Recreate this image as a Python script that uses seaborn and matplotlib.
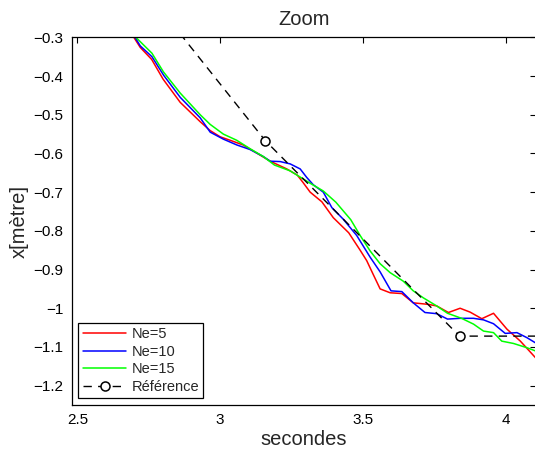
import matplotlib
matplotlib.use("Agg")
import matplotlib.pyplot as plt
from matplotlib.ticker import FuncFormatter
import seaborn as sns

# time (s) and position (m)
t_ne5 = [2.68, 2.696, 2.72, 2.76, 2.80, 2.86, 2.93, 2.965, 3.00, 3.035, 3.08, 3.128,
         3.175, 3.233, 3.27, 3.29, 3.315, 3.356, 3.396, 3.45, 3.49, 3.513, 3.536, 3.56,
         3.595, 3.636, 3.676, 3.729, 3.758, 3.799, 3.84, 3.875, 3.916, 3.957, 4.004,
         4.051, 4.103, 4.14]
x_ne5 = [-0.27, -0.298, -0.326, -0.357, -0.408, -0.468, -0.518, -0.541, -0.557, -0.566,
         -0.578, -0.599, -0.62, -0.64, -0.656, -0.675, -0.70, -0.725, -0.766, -0.805,
         -0.85, -0.877, -0.913, -0.95, -0.96, -0.962, -0.986, -0.99, -0.994, -1.011,
         -1.0, -1.01, -1.027, -1.013, -1.054, -1.085, -1.127, -1.16]

t_ne10 = [2.68, 2.70, 2.72, 2.761, 2.802, 2.86, 2.93, 2.965, 3.011, 3.058, 3.105, 3.151,
          3.175, 3.21, 3.245, 3.28, 3.303, 3.326, 3.361, 3.391, 3.431, 3.478, 3.525,
          3.56, 3.598, 3.636, 3.676, 3.717, 3.758, 3.796, 3.84, 3.887, 3.922, 3.957,
          3.998, 4.039, 4.074, 4.103, 4.14]
x_ne10 = [-0.27, -0.298, -0.322, -0.35, -0.398, -0.455, -0.508, -0.545, -0.563, -0.578,
          -0.59, -0.608, -0.62, -0.621, -0.627, -0.64, -0.662, -0.681, -0.70, -0.74,
          -0.77, -0.812, -0.868, -0.906, -0.955, -0.957, -0.986, -1.011, -1.014,
          -1.028, -1.026, -1.026, -1.03, -1.04, -1.065, -1.063, -1.076, -1.089, -1.10]

t_ne15 = [2.68, 2.702, 2.761, 2.801, 2.86, 2.93, 2.965, 3.011, 3.058, 3.105, 3.151,
          3.19, 3.245, 3.28, 3.315, 3.361, 3.405, 3.457, 3.49, 3.525, 3.56, 3.595,
          3.641, 3.676, 3.711, 3.758, 3.796, 3.845, 3.887, 3.922, 3.957, 3.986, 4.027,
          4.074, 4.103, 4.14]
x_ne15 = [-0.26, -0.298, -0.341, -0.389, -0.444, -0.50, -0.525, -0.55, -0.566, -0.588,
          -0.608, -0.63, -0.645, -0.661, -0.677, -0.697, -0.726, -0.771, -0.812,
          -0.852, -0.885, -0.908, -0.93, -0.955, -0.973, -0.994, -1.013, -1.026,
          -1.041, -1.059, -1.063, -1.085, -1.091, -1.102, -1.11, -1.12]

t_ref = [2.478, 3.158, 3.838, 4.518]
x_ref = [0.063, -0.567, -1.072, -1.072]

xticks = [2.5, 3, 3.5, 4]
yticks = [-1.2, -1.1, -1.0, -0.9, -0.8, -0.7, -0.6, -0.5, -0.4, -0.3]

sns.set_theme(style="white")
plt.rcParams["font.family"] = ["Liberation Sans", "DejaVu Sans"]
plt.rcParams["axes.unicode_minus"] = True

fig = plt.figure(figsize=(5.35, 4.5), dpi=100)
ax = fig.add_axes([0.134, 0.10, 0.868, 0.817])

sns.lineplot(x=t_ne5, y=x_ne5, color=(1, 0, 0), lw=1.1, label="Ne=5", ax=ax)
sns.lineplot(x=t_ne10, y=x_ne10, color=(0, 0, 1), lw=1.1, label="Ne=10", ax=ax)
sns.lineplot(x=t_ne15, y=x_ne15, color=(0, 1, 0), lw=1.1, label="Ne=15", ax=ax)
sns.lineplot(x=t_ref, y=x_ref, color="black", lw=1.0, linestyle=(0, (6, 4.5)),
             marker="o", markersize=6.5, markerfacecolor="white",
             markeredgecolor="black", markeredgewidth=1.1, label="Référence", ax=ax)

ax.set_xlim(2.48, 4.106)
ax.set_ylim(-1.25, -0.3)
ax.set_xticks(xticks)
ax.set_yticks(yticks)
fmt = FuncFormatter(lambda v, p: f"{v:g}".replace("-", "\u2212"))
ax.xaxis.set_major_formatter(fmt)
ax.yaxis.set_major_formatter(fmt)
ax.tick_params(direction="in", length=4, width=0.8, colors="black",
               labelsize=11, top=True, right=True, pad=6)
for s in ax.spines.values():
    s.set_color("black")
    s.set_linewidth(0.9)

ax.set_title("Zoom", fontsize=14.5, pad=9)
ax.set_xlabel("secondes", fontsize=14.5, labelpad=2)
ax.set_ylabel("x[mètre]", fontsize=14.5, labelpad=3)

leg = ax.legend(loc="lower left", fontsize=10.5, handlelength=3.0, handletextpad=0.35,
                labelspacing=0.25, borderaxespad=0.45, borderpad=0.3,
                fancybox=False, framealpha=1)
leg.get_frame().set_edgecolor("black")
leg.get_frame().set_linewidth(0.9)

fig.savefig("out.png", dpi=100)
